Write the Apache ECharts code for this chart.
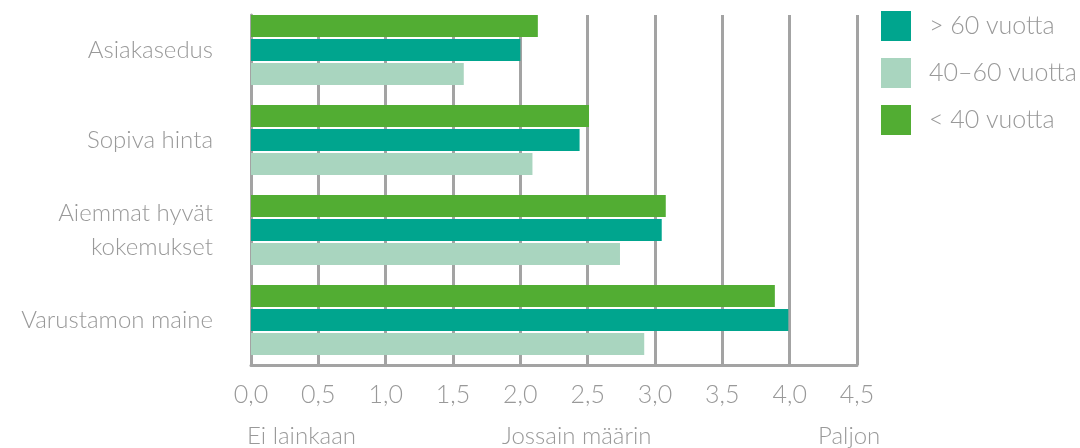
<!DOCTYPE html>
<html><head><meta charset="utf-8">
<script src="https://cdn.jsdelivr.net/npm/echarts@6/dist/echarts.min.js"></script>
<style>html,body{margin:0;padding:0;background:#fff}#c{width:1080px;height:448px}</style>
</head><body><div id="c"></div>
<script>
const categories = ['Asiakasedus', 'Sopiva hinta', 'Aiemmat hyvät\nkokemukset', 'Varustamon maine'];
const under40 = [2.13, 2.51, 3.08, 3.89];
const over60 = [2.0, 2.44, 3.05, 3.99];
const mid40to60 = [1.58, 2.09, 2.74, 2.92];
const legendNames = ['> 60 vuotta', '40–60 vuotta', '< 40 vuotta'];
const scaleLabels = ['Ei lainkaan', 'Jossain määrin', 'Paljon'];

const FONT = 'Lato';
const W = 300;
const GREY = '#999999';
const LINE = '#a3a3a3';
const chart = echarts.init(document.getElementById('c'));
chart.setOption({
  animation: false,
  textStyle: { fontFamily: FONT, fontWeight: W },
  legend: {
    orient: 'vertical', left: 876, top: 6,
    itemWidth: 30, itemHeight: 30, itemGap: 17,
    data: legendNames,
    icon: 'rect',
    textStyle: { color: GREY, fontSize: 25, fontFamily: FONT, fontWeight: W, padding: [0, 0, 0, 13] }
  },
  grid: [
    { left: 251, right: 223, top: 15, bottom: 83 },
    { left: 251, right: 223, top: 5, bottom: 83 }
  ],
  xAxis: [
    { gridIndex: 0, type: 'value', min: 0, max: 4.5, interval: 0.5,
      axisLine: { show: true, lineStyle: { color: LINE, width: 3 } },
      axisTick: { show: false },
      splitLine: { show: true, lineStyle: { color: LINE, width: 3 } },
      axisLabel: { color: GREY, fontSize: 25, margin: 17, fontFamily: FONT, fontWeight: W,
        formatter: v => v.toFixed(1).replace('.', ',') } },
    { gridIndex: 1, type: 'value', min: 0, max: 4.5, show: false }
  ],
  yAxis: [
    { gridIndex: 0, type: 'value', axisLine: { show: true, lineStyle: { color: LINE, width: 3 } },
      axisLabel: { show: false }, splitLine: { show: false }, axisTick: { show: false } },
    { gridIndex: 1, type: 'category', inverse: true, data: categories,
      axisLine: { show: false }, axisTick: { show: false },
      axisLabel: { color: GREY, fontSize: 24, margin: 38, lineHeight: 34, fontFamily: FONT, fontWeight: W } }
  ],
  series: [
    { name: '< 40 vuotta', type: 'bar', xAxisIndex: 1, yAxisIndex: 1, data: under40,
      itemStyle: { color: '#52ad33' }, barWidth: 22, barGap: '9%' },
    { name: '> 60 vuotta', type: 'bar', xAxisIndex: 1, yAxisIndex: 1, data: over60,
      itemStyle: { color: '#00a58e' }, barWidth: 22, barGap: '9%' },
    { name: '40–60 vuotta', type: 'bar', xAxisIndex: 1, yAxisIndex: 1, data: mid40to60,
      itemStyle: { color: '#a9d5bf' }, barWidth: 22, barGap: '9%' }
  ],
  graphic: [
    { type: 'text', left: 247, top: 424, style: { text: scaleLabels[0], fill: GREY, font: W + ' 24px ' + FONT } },
    { type: 'text', left: 502, top: 424, style: { text: scaleLabels[1], fill: GREY, font: W + ' 24px ' + FONT } },
    { type: 'text', left: 818, top: 424, style: { text: scaleLabels[2], fill: GREY, font: W + ' 24px ' + FONT } }
  ]
});
</script></body></html>
